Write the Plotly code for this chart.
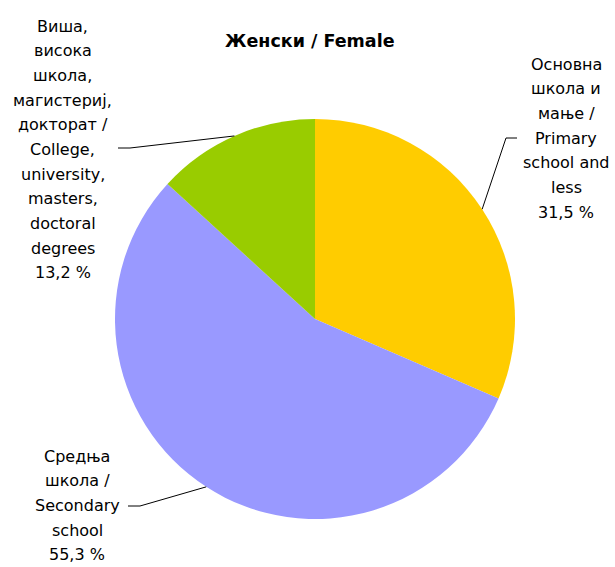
import math
import plotly.graph_objects as go

W, H = 615, 567

categories = [
    "Основна школа и мање / Primary school and less",
    "Средња школа / Secondary school",
    "Виша, висока школа, магистериј, докторат / College, university, masters, doctoral degrees",
]
values = [31.5, 55.3, 13.2]
colors = ["#FFCC00", "#9999FF", "#99CC00"]
label_lines = [
    ["Основна", "школа и", "мање /", "Primary", "school and", "less", "31,5 %"],
    ["Средња", "школа /", "Secondary", "school", "55,3 %"],
    ["Виша,", "висока", "школа,", "магистериј,", "докторат /", "College,", "university,",
     "masters,", "doctoral", "degrees", "13,2 %"],
]
title = "Женски / Female"

# pie geometry (pixels)
cx, cy, R = 315, 319, 200
# label block: centre x, first-line centre y (pixels); leader elbow points
label_pos = [(566, 64), (77, 456), (63, 26)]
LINE_STEP = 24.7
elbows = [[(517, 138), (506, 138)], [(128, 506), (140, 506)], [(118, 148), (130, 148)]]

FONT = "DejaVu Sans"

fig = go.Figure(go.Pie(
    labels=categories, values=values, sort=False, direction="clockwise",
    rotation=0, marker=dict(colors=colors, line=dict(width=0)),
    textinfo="none", hoverinfo="label+percent",
    domain=dict(x=[(cx - R) / W, (cx + R) / W], y=[(H - cy - R) / H, (H - cy + R) / H]),
    showlegend=False,
))

px = lambda x: x / W
py = lambda y: 1 - y / H

annotations = [dict(text=f"<b>{title}</b>", x=px(310), y=py(41), xref="paper", yref="paper",
                    showarrow=False, xanchor="center", yanchor="middle",
                    font=dict(family="DejaVu Sans", size=17.5, color="black"))]
shapes = []
total = sum(values)
cum = 0
for i, v in enumerate(values):
    mid = (cum + v / 2) / total * 2 * math.pi
    cum += v
    ex, ey = cx + R * math.sin(mid), cy - R * math.cos(mid)
    (x0, y0), (x1, y1) = elbows[i]
    path = f"M {px(x0)} {py(y0)} L {px(x1)} {py(y1)} L {px(ex)} {py(ey)}"
    shapes.append(dict(type="path", path=path, xref="paper", yref="paper",
                       line=dict(color="black", width=1)))
    lx, ly = label_pos[i]
    for j, line in enumerate(label_lines[i]):
        annotations.append(dict(text=line, x=px(lx), y=py(ly + j * LINE_STEP),
                                xref="paper", yref="paper", showarrow=False,
                                xanchor="center", yanchor="middle", align="center",
                                font=dict(family=FONT, size=16, color="black")))

fig.update_layout(
    width=W, height=H, margin=dict(l=0, r=0, t=0, b=0),
    paper_bgcolor="white", plot_bgcolor="white",
    annotations=annotations, shapes=shapes,
)
fig.write_html("out.html", config={"displayModeBar": False},
               post_script="document.body.style.margin='0';document.body.style.overflow='hidden';")
